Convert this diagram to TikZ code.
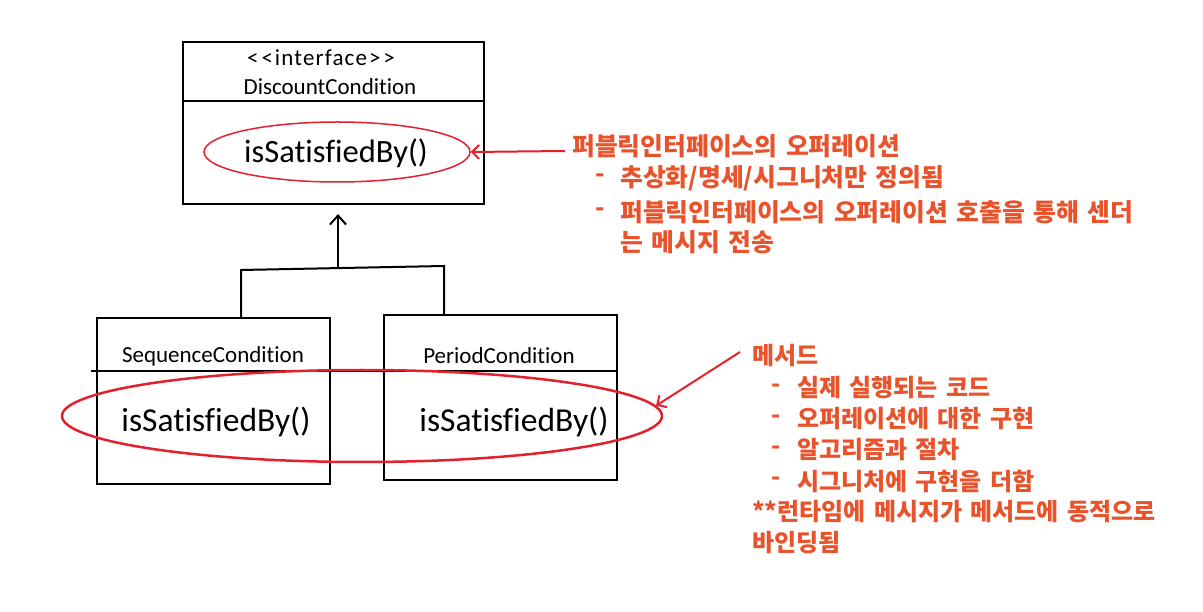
\documentclass[tikz,border=0pt]{standalone}
\usepackage{fontspec}
\setmainfont{Carlito}[Ligatures=NoCommon]
\newfontfamily\kr{Noto Sans CJK KR}[WordSpace=1.5]
\usetikzlibrary{arrows.meta,shapes.geometric}
\definecolor{annc}{HTML}{E8532B}
\definecolor{markc}{HTML}{E3202E}
\begin{document}
\begin{tikzpicture}[x=1pt,y=-1pt,
 box/.style={draw=black,line width=2pt,anchor=north west,inner sep=0},
 lbl/.style={font=\fontsize{23}{23}\selectfont,inner sep=0},
 meth/.style={font=\fontsize{32.5}{32.5}\selectfont,inner sep=0},
 methb/.style={font=\fontsize{33.5}{33.5}\selectfont,inner sep=0},
 ann/.style={text=annc,font=\kr\bfseries\fontsize{24.8}{24.8}\selectfont,anchor=west,inner sep=0},
 annb/.style={text=annc,font=\kr\bfseries\fontsize{24}{24}\selectfont,anchor=west,inner sep=0},
 oval/.style={draw=markc,ellipse,inner sep=0},
 pointer/.style={draw=markc,line width=2pt,-{Straight Barb[length=7pt,width=14pt]}},
 link/.style={draw=black,line width=2pt},
]
\useasboundingbox[fill=white] (0,0) rectangle (1203,612);

% interface box
\node[box,minimum width=301pt,minimum height=162pt] (dc) at (182,41) {};
\draw[link] (dc.north west) ++(0,60) -- ++(301,0);
\node[lbl] (st) at (321,58) {<\hspace{3pt}<\hspace{2pt}{\addfontfeature{LetterSpace=5}interface}\hspace{2pt}>\hspace{3pt}>};
\node[lbl] (dn) at (330,87) {DiscountCondition};
\node[meth] (m0) at (336,153) {isSatisfiedBy()};
\node[oval,line width=1.5pt,minimum width=266pt,minimum height=60pt] (o0) at (337,152) {};

% implementation boxes
\node[box,minimum width=233pt,minimum height=166pt] (sc) at (96,317) {};
\node[box,minimum width=233pt,minimum height=165pt] (pc) at (383,314) {};
\coordinate (dl) at (91,371);
\coordinate (dr) at (618,371);
\draw[link] (dl) -- (dr);
\node[lbl] (sn) at (213,356) {SequenceCondition};
\node[lbl] (pn) at (499,356) {PeriodCondition};
\node[methb] (m1) at (216,422) {isSatisfiedBy()};
\node[methb] (m2) at (514,422) {isSatisfiedBy()};
\node[oval,line width=2.5pt,minimum width=600pt,minimum height=92pt] (o1) at (362,416) {};

% inheritance connector
\coordinate (jl) at (241,270);
\coordinate (jr) at (444,266);
\coordinate (jm) at (338,268);
\coordinate (tip) at (338,214);
\draw[link] (sc.north -| jl) -- (jl) -- (jr) -- (pc.north -| jr);
\draw[link,-{Straight Barb[length=9pt,width=16pt]}] (jm) -- (tip);

% annotation 1
\node[ann] (a1) at (572,146) {퍼블릭인터페이스의 오퍼레이션};
\node[ann] (b11) at (595,178) {-};
\node[ann] (a11) at (620,178) {추상화/명세/시그니처만 정의됨};
\node[ann] (b12) at (595,212) {-};
\node[ann] (a12) at (620,212) {퍼블릭인터페이스의 오퍼레이션 호출을 통해 센더};
\node[ann] (a13) at (620,242) {는 메시지 전송};
\coordinate (p1) at (565,151);
\draw[pointer] (p1) -- (o0.east);

% annotation 2
\node[annb] (a2) at (752,356) {메서드};
\node[annb] (b21) at (771,388) {-};
\node[annb] (a21) at (797,388) {실제 실행되는 코드};
\node[annb] (b22) at (771,419) {-};
\node[annb] (a22) at (797,419) {오퍼레이션에 대한 구현};
\node[annb] (b23) at (771,450) {-};
\node[annb] (a23) at (797,450) {알고리즘과 절차};
\node[annb] (b24) at (771,481) {-};
\node[annb] (a24) at (797,481) {시그니처에 구현을 더함};
\node[annb] (a25) at (752,512) {**런타임에 메시지가 메서드에 동적으로};
\node[annb] (a26) at (752,543) {바인딩됨};
\coordinate (p2) at (740,352);
\draw[pointer] (p2) -- (o1.2);
\end{tikzpicture}
\end{document}
